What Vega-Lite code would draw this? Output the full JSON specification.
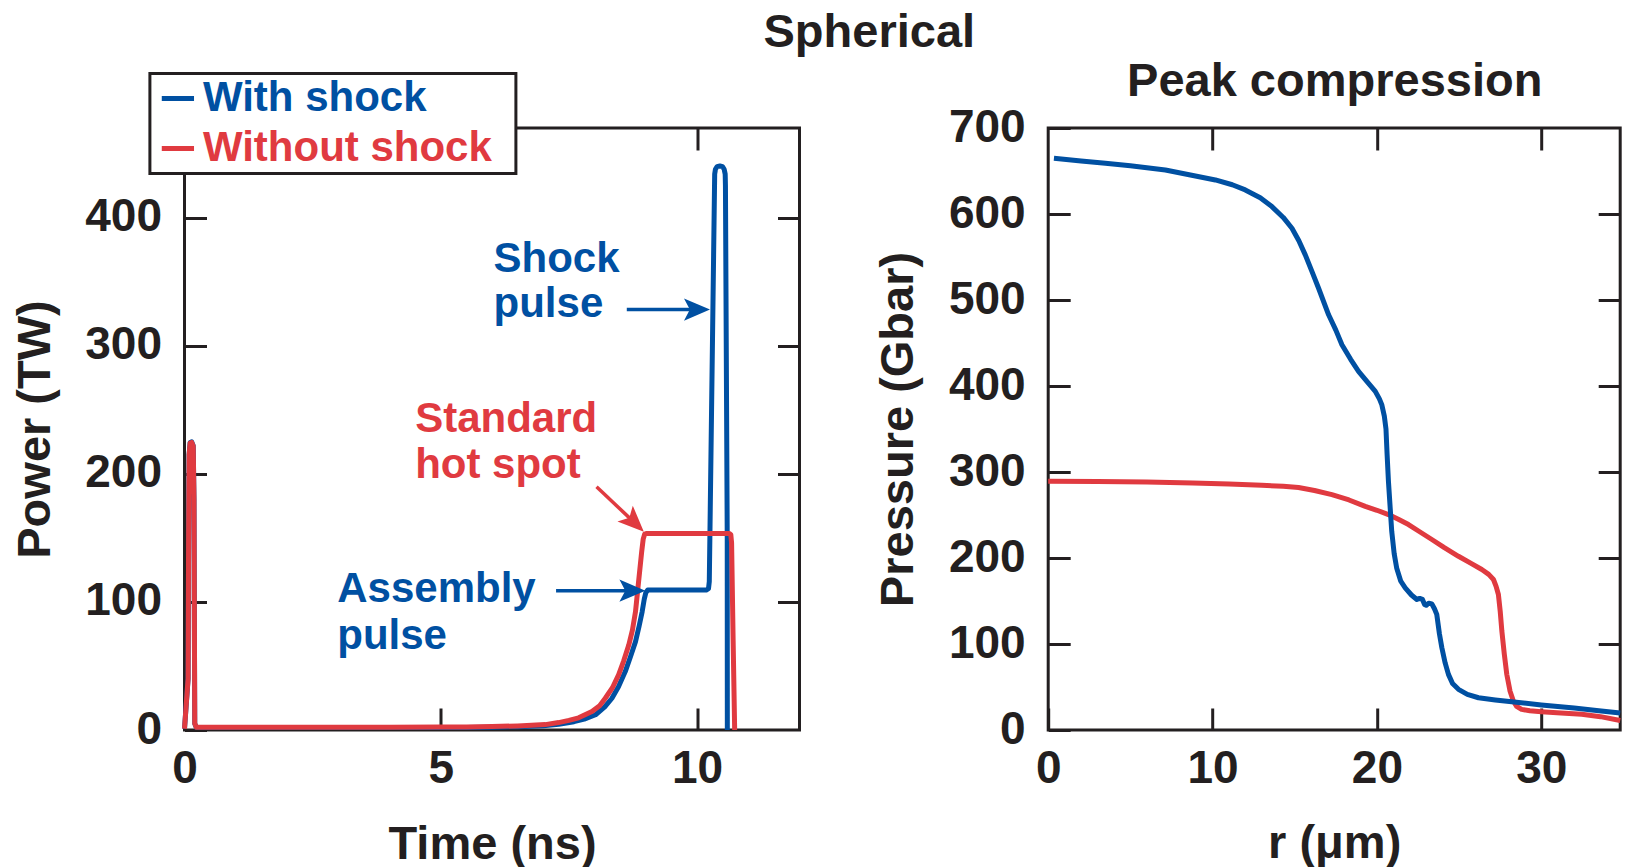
{
  "$schema": "https://vega.github.io/schema/vega-lite/v6.json",
  "background": "white",
  "padding": {"left": 9.5, "top": 7, "right": 10, "bottom": 0},
  "bounds": "flush",
  "spacing": 248.7,
  "resolve": {"scale": {"color": "independent"}, "legend": {"color": "independent"}},
  "config": {
    "view": {"stroke": "#231f20", "strokeWidth": 3},
    "font": "Liberation Sans",
    "axis": {"domain": false, "grid": false, "tickSize": -22, "tickWidth": 3, "tickColor": "#231f20", "labelFont": "Liberation Sans", "labelFontSize": 46, "labelFontWeight": "bold", "labelColor": "#231f20", "labelOverlap": false, "labelFlush": false, "labelBound": false, "titleFont": "Liberation Sans", "titleFontSize": 47, "titleFontWeight": "bold", "titleColor": "#231f20"},
    "axisX": {"labelPadding": 38},
    "axisY": {"labelPadding": 45, "labelOffset": -1}
  },
  "datasets": {
    "power": [
      {"t": 0.0, "P": 1, "series": "With shock"}, {"t": 0.07, "P": 40, "series": "With shock"}, {"t": 0.08, "P": 150, "series": "With shock"}, {"t": 0.09, "P": 215, "series": "With shock"}, {"t": 0.11, "P": 224.5, "series": "With shock"}, {"t": 0.14, "P": 225, "series": "With shock"}, {"t": 0.17, "P": 222, "series": "With shock"}, {"t": 0.185, "P": 180, "series": "With shock"}, {"t": 0.195, "P": 60, "series": "With shock"}, {"t": 0.2, "P": 5, "series": "With shock"}, {"t": 0.23, "P": 2, "series": "With shock"},
      {"t": 1, "P": 2, "series": "With shock"}, {"t": 2, "P": 2, "series": "With shock"}, {"t": 3, "P": 2, "series": "With shock"}, {"t": 4, "P": 2, "series": "With shock"}, {"t": 5, "P": 2, "series": "With shock"}, {"t": 5.5, "P": 2, "series": "With shock"}, {"t": 6, "P": 2.2, "series": "With shock"}, {"t": 6.5, "P": 2.6, "series": "With shock"}, {"t": 7, "P": 3.3, "series": "With shock"}, {"t": 7.3, "P": 4.5, "series": "With shock"}, {"t": 7.6, "P": 6.5, "series": "With shock"}, {"t": 7.8, "P": 8.5, "series": "With shock"}, {"t": 8.02, "P": 11.9, "series": "With shock"}, {"t": 8.2, "P": 18, "series": "With shock"}, {"t": 8.34, "P": 24.8, "series": "With shock"}, {"t": 8.47, "P": 34, "series": "With shock"}, {"t": 8.6, "P": 45.6, "series": "With shock"}, {"t": 8.7, "P": 57, "series": "With shock"}, {"t": 8.8, "P": 69, "series": "With shock"}, {"t": 8.87, "P": 81, "series": "With shock"}, {"t": 8.93, "P": 92.4, "series": "With shock"}, {"t": 8.97, "P": 102, "series": "With shock"}, {"t": 9.0, "P": 107, "series": "With shock"}, {"t": 9.04, "P": 109.4, "series": "With shock"}, {"t": 10.19, "P": 109.4, "series": "With shock"}, {"t": 10.225, "P": 110.5, "series": "With shock"}, {"t": 10.24, "P": 116, "series": "With shock"}, {"t": 10.345, "P": 434, "series": "With shock"}, {"t": 10.36, "P": 437.8, "series": "With shock"}, {"t": 10.39, "P": 439.8, "series": "With shock"}, {"t": 10.447, "P": 440.3, "series": "With shock"}, {"t": 10.5, "P": 439.8, "series": "With shock"}, {"t": 10.53, "P": 437.8, "series": "With shock"}, {"t": 10.55, "P": 434, "series": "With shock"}, {"t": 10.555, "P": 425, "series": "With shock"}, {"t": 10.59, "P": 150, "series": "With shock"}, {"t": 10.592, "P": 0, "series": "With shock"},
      {"t": 0.0, "P": 1, "series": "Without shock"}, {"t": 0.07, "P": 40, "series": "Without shock"}, {"t": 0.08, "P": 150, "series": "Without shock"}, {"t": 0.09, "P": 215, "series": "Without shock"}, {"t": 0.11, "P": 224, "series": "Without shock"}, {"t": 0.14, "P": 224.5, "series": "Without shock"}, {"t": 0.17, "P": 221.5, "series": "Without shock"}, {"t": 0.185, "P": 180, "series": "Without shock"}, {"t": 0.195, "P": 60, "series": "Without shock"}, {"t": 0.2, "P": 5, "series": "Without shock"}, {"t": 0.23, "P": 2.2, "series": "Without shock"},
      {"t": 1, "P": 2.2, "series": "Without shock"}, {"t": 2, "P": 2.2, "series": "Without shock"}, {"t": 3, "P": 2.2, "series": "Without shock"}, {"t": 4, "P": 2.2, "series": "Without shock"}, {"t": 5, "P": 2.3, "series": "Without shock"}, {"t": 5.5, "P": 2.4, "series": "Without shock"}, {"t": 6, "P": 2.7, "series": "Without shock"}, {"t": 6.5, "P": 3.2, "series": "Without shock"}, {"t": 7.04, "P": 4.2, "series": "Without shock"}, {"t": 7.3, "P": 5.8, "series": "Without shock"}, {"t": 7.5, "P": 7.5, "series": "Without shock"}, {"t": 7.69, "P": 9.5, "series": "Without shock"}, {"t": 7.95, "P": 14.4, "series": "Without shock"}, {"t": 8.1, "P": 19, "series": "Without shock"}, {"t": 8.21, "P": 24.8, "series": "Without shock"}, {"t": 8.35, "P": 33, "series": "Without shock"}, {"t": 8.47, "P": 43, "series": "Without shock"}, {"t": 8.57, "P": 54, "series": "Without shock"}, {"t": 8.67, "P": 66.5, "series": "Without shock"}, {"t": 8.74, "P": 78, "series": "Without shock"}, {"t": 8.8, "P": 92.4, "series": "Without shock"}, {"t": 8.86, "P": 115.8, "series": "Without shock"}, {"t": 8.92, "P": 139, "series": "Without shock"}, {"t": 8.95, "P": 149, "series": "Without shock"}, {"t": 8.98, "P": 153, "series": "Without shock"}, {"t": 9.02, "P": 153.5, "series": "Without shock"}, {"t": 10.63, "P": 153.5, "series": "Without shock"}, {"t": 10.66, "P": 152.5, "series": "Without shock"}, {"t": 10.675, "P": 146, "series": "Without shock"}, {"t": 10.705, "P": 70, "series": "Without shock"}, {"t": 10.735, "P": 0, "series": "Without shock"}
    ],
    "pressure": [
      {"r": 0.35, "P": 664.7, "series": "With shock"}, {"r": 2, "P": 661.5, "series": "With shock"}, {"r": 3.48, "P": 659, "series": "With shock"}, {"r": 5, "P": 656, "series": "With shock"}, {"r": 7.13, "P": 651.2, "series": "With shock"}, {"r": 8.5, "P": 646, "series": "With shock"}, {"r": 10.17, "P": 639.6, "series": "With shock"}, {"r": 11.2, "P": 634, "series": "With shock"}, {"r": 11.99, "P": 628, "series": "With shock"}, {"r": 12.9, "P": 619, "series": "With shock"}, {"r": 13.61, "P": 608.6, "series": "With shock"}, {"r": 14.3, "P": 596, "series": "With shock"}, {"r": 14.83, "P": 583.4, "series": "With shock"}, {"r": 15.25, "P": 569, "series": "With shock"}, {"r": 15.64, "P": 552.5, "series": "With shock"}, {"r": 16.05, "P": 533, "series": "With shock"}, {"r": 16.45, "P": 513.7, "series": "With shock"}, {"r": 17.06, "P": 482.8, "series": "With shock"}, {"r": 17.5, "P": 465, "series": "With shock"}, {"r": 17.87, "P": 448, "series": "With shock"}, {"r": 18.4, "P": 431, "series": "With shock"}, {"r": 18.88, "P": 417, "series": "With shock"}, {"r": 19.4, "P": 405, "series": "With shock"}, {"r": 19.9, "P": 393.7, "series": "With shock"}, {"r": 20.15, "P": 385, "series": "With shock"}, {"r": 20.3, "P": 378, "series": "With shock"}, {"r": 20.45, "P": 365, "series": "With shock"}, {"r": 20.55, "P": 350, "series": "With shock"}, {"r": 20.62, "P": 320, "series": "With shock"}, {"r": 20.7, "P": 289, "series": "With shock"}, {"r": 20.8, "P": 260, "series": "With shock"}, {"r": 20.9, "P": 231, "series": "With shock"}, {"r": 21.05, "P": 205, "series": "With shock"}, {"r": 21.2, "P": 188.5, "series": "With shock"}, {"r": 21.45, "P": 173, "series": "With shock"}, {"r": 21.72, "P": 165.3, "series": "With shock"}, {"r": 22.1, "P": 157, "series": "With shock"}, {"r": 22.43, "P": 151.8, "series": "With shock"}, {"r": 22.6, "P": 153, "series": "With shock"}, {"r": 22.77, "P": 151.8, "series": "With shock"}, {"r": 22.9, "P": 146, "series": "With shock"}, {"r": 23.0, "P": 145, "series": "With shock"}, {"r": 23.15, "P": 147.5, "series": "With shock"}, {"r": 23.34, "P": 146.7, "series": "With shock"}, {"r": 23.5, "P": 141, "series": "With shock"}, {"r": 23.64, "P": 134.4, "series": "With shock"}, {"r": 23.8, "P": 112, "series": "With shock"}, {"r": 23.95, "P": 95.6, "series": "With shock"}, {"r": 24.15, "P": 78, "series": "With shock"}, {"r": 24.35, "P": 64.7, "series": "With shock"}, {"r": 24.6, "P": 54, "series": "With shock"}, {"r": 24.96, "P": 47.3, "series": "With shock"}, {"r": 25.5, "P": 41.5, "series": "With shock"}, {"r": 26.18, "P": 37.5, "series": "With shock"}, {"r": 27.2, "P": 35, "series": "With shock"}, {"r": 28.2, "P": 32.9, "series": "With shock"}, {"r": 30.0, "P": 29, "series": "With shock"}, {"r": 32.0, "P": 25.5, "series": "With shock"}, {"r": 33.5, "P": 22.5, "series": "With shock"}, {"r": 34.8, "P": 19.8, "series": "With shock"},
      {"r": 0, "P": 289.2, "series": "Without shock"}, {"r": 3, "P": 289, "series": "Without shock"}, {"r": 6, "P": 288.5, "series": "Without shock"}, {"r": 8.8, "P": 287.2, "series": "Without shock"}, {"r": 11, "P": 286, "series": "Without shock"}, {"r": 13, "P": 284.5, "series": "Without shock"}, {"r": 14.3, "P": 283.4, "series": "Without shock"}, {"r": 15.23, "P": 282, "series": "Without shock"}, {"r": 16.2, "P": 278.5, "series": "Without shock"}, {"r": 17.26, "P": 273.7, "series": "Without shock"}, {"r": 18.3, "P": 267.5, "series": "Without shock"}, {"r": 19.29, "P": 260, "series": "Without shock"}, {"r": 20.0, "P": 255.5, "series": "Without shock"}, {"r": 20.7, "P": 250.5, "series": "Without shock"}, {"r": 21.3, "P": 245, "series": "Without shock"}, {"r": 21.92, "P": 238.9, "series": "Without shock"}, {"r": 22.6, "P": 230.5, "series": "Without shock"}, {"r": 23.34, "P": 221.5, "series": "Without shock"}, {"r": 24.1, "P": 212, "series": "Without shock"}, {"r": 24.96, "P": 202, "series": "Without shock"}, {"r": 25.7, "P": 194, "series": "Without shock"}, {"r": 26.38, "P": 186.6, "series": "Without shock"}, {"r": 26.8, "P": 181, "series": "Without shock"}, {"r": 27.09, "P": 175, "series": "Without shock"}, {"r": 27.25, "P": 167, "series": "Without shock"}, {"r": 27.39, "P": 157.6, "series": "Without shock"}, {"r": 27.5, "P": 138, "series": "Without shock"}, {"r": 27.6, "P": 115, "series": "Without shock"}, {"r": 27.75, "P": 88, "series": "Without shock"}, {"r": 27.9, "P": 64.7, "series": "Without shock"}, {"r": 28.1, "P": 45, "series": "Without shock"}, {"r": 28.3, "P": 33.7, "series": "Without shock"}, {"r": 28.5, "P": 27.5, "series": "Without shock"}, {"r": 28.8, "P": 24, "series": "Without shock"}, {"r": 29.3, "P": 22.3, "series": "Without shock"}, {"r": 30.0, "P": 21.3, "series": "Without shock"}, {"r": 31.2, "P": 19.8, "series": "Without shock"}, {"r": 32.46, "P": 18.2, "series": "Without shock"}, {"r": 33.6, "P": 15.5, "series": "Without shock"}, {"r": 34.8, "P": 11, "series": "Without shock"}
    ],
    "notes": [
      {"t": 6.03, "P": 357.6, "label": "Shock", "series": "With shock"},
      {"t": 6.03, "P": 322.5, "label": "pulse", "series": "With shock"},
      {"t": 2.98, "P": 100.2, "label": "Assembly", "series": "With shock"},
      {"t": 2.98, "P": 63.2, "label": "pulse", "series": "With shock"},
      {"t": 4.5, "P": 232.8, "label": "Standard", "series": "Without shock"},
      {"t": 4.5, "P": 196.4, "label": "hot spot", "series": "Without shock"}
    ],
    "arrows": [
      {"t": 8.63, "P": 328.2, "t2": 10.0, "P2": 328.2, "series": "With shock"},
      {"t": 7.25, "P": 108.8, "t2": 8.74, "P2": 108.8, "series": "With shock"},
      {"t": 8.04, "P": 189.9, "t2": 8.78, "P2": 161.9, "series": "Without shock"}
    ]
  },
  "hconcat": [
    {
      "width": 615,
      "height": 602,
      "data": {"name": "power"},
      "resolve": {"axis": {"x": "independent", "y": "independent"}},
      "layer": [
        {
          "transform": [{"filter": "datum.series === 'With shock'"}],
          "mark": {"type": "line", "strokeWidth": 5, "strokeJoin": "round"},
          "encoding": {
            "x": {"field": "t", "type": "quantitative", "scale": {"domain": [0, 12], "nice": false, "zero": false},
                  "axis": {"orient": "bottom", "values": [0, 5, 10], "title": "Time (ns)", "titleX": 307.5, "titleY": 128, "titleBaseline": "alphabetic", "titleAlign": "center", "titleAngle": 0}},
            "y": {"field": "P", "type": "quantitative", "scale": {"domain": [0, 470], "nice": false, "zero": false},
                  "axis": {"orient": "left", "values": [0, 100, 200, 300, 400], "title": "Power (TW)", "titleX": -125, "titleY": 301, "titleBaseline": "bottom", "titleAlign": "center", "titleAngle": -90}},
            "color": {"field": "series", "type": "nominal",
                      "scale": {"domain": ["With shock", "Without shock"], "range": ["#0050a2", "#e03a40"]},
                      "legend": {"orient": "none", "legendX": -34.6, "legendY": -54.6, "title": "\u2800", "titleOrient": "right", "titleFontSize": 24, "titlePadding": 2, "titleColor": "#ffffff", "symbolType": "stroke", "symbolSize": 1040, "symbolStrokeWidth": 5, "labelFont": "Liberation Sans", "labelFontSize": 42, "labelFontWeight": "bold", "labelLimit": 600, "padding": 4, "symbolOffset": 3, "labelOffset": 4, "rowPadding": 8, "fillColor": "#ffffff", "strokeColor": "#231f20",
                                 "encode": {"legend": {"update": {"strokeWidth": {"value": 3}}}, "labels": {"update": {"fill": {"signal": "datum.value === 'With shock' ? '#0050a2' : '#e03a40'"}}}}}}
          }
        },
        {
          "transform": [{"filter": "datum.series === 'Without shock'"}],
          "mark": {"type": "line", "strokeWidth": 5, "strokeJoin": "round"},
          "encoding": {
            "x": {"field": "t", "type": "quantitative", "axis": {"orient": "top", "values": [0, 5, 10], "labels": false, "title": "Spherical", "titleX": 684.3, "titleY": -81.5, "titleBaseline": "alphabetic", "titleAlign": "center", "titleAngle": 0}},
            "y": {"field": "P", "type": "quantitative", "axis": {"orient": "right", "values": [100, 200, 300, 400], "labels": false, "title": null}},
            "color": {"field": "series", "type": "nominal"}
          }
        },
        {
          "data": {"name": "notes"},
          "transform": [{"filter": "datum.series === 'With shock'"}],
          "mark": {"type": "text", "align": "left", "baseline": "alphabetic", "font": "Liberation Sans", "fontWeight": "bold", "fontSize": 42, "color": "#0050a2"},
          "encoding": {
            "x": {"field": "t", "type": "quantitative", "axis": null},
            "y": {"field": "P", "type": "quantitative", "axis": null},
            "text": {"field": "label"}
          }
        },
        {
          "data": {"name": "notes"},
          "transform": [{"filter": "datum.series === 'Without shock'"}],
          "mark": {"type": "text", "align": "left", "baseline": "alphabetic", "font": "Liberation Sans", "fontWeight": "bold", "fontSize": 42, "color": "#e03a40"},
          "encoding": {
            "x": {"field": "t", "type": "quantitative", "axis": null},
            "y": {"field": "P", "type": "quantitative", "axis": null},
            "text": {"field": "label"}
          }
        },
        {
          "data": {"name": "arrows"},
          "transform": [{"filter": "datum.series === 'With shock'"}],
          "mark": {"type": "rule", "strokeWidth": 3.5, "color": "#0050a2"},
          "encoding": {
            "x": {"field": "t", "type": "quantitative", "axis": null},
            "x2": {"field": "t2"},
            "y": {"field": "P", "type": "quantitative", "axis": null},
            "y2": {"field": "P2"}
          }
        },
        {
          "data": {"name": "arrows"},
          "transform": [{"filter": "datum.series === 'Without shock'"}],
          "mark": {"type": "rule", "strokeWidth": 3.5, "color": "#e03a40"},
          "encoding": {
            "x": {"field": "t", "type": "quantitative", "axis": null},
            "x2": {"field": "t2"},
            "y": {"field": "P", "type": "quantitative", "axis": null},
            "y2": {"field": "P2"}
          }
        },
        {
          "data": {"name": "arrows"},
          "transform": [{"filter": "datum.series === 'With shock'"}],
          "mark": {"type": "point", "filled": true, "shape": "M1,0L-1,-0.85L-0.55,0L-1,0.85Z", "size": 676, "color": "#0050a2", "opacity": 1, "strokeWidth": 0},
          "encoding": {
            "x": {"field": "t2", "type": "quantitative", "axis": null},
            "y": {"field": "P2", "type": "quantitative", "axis": null}
          }
        },
        {
          "data": {"name": "arrows"},
          "transform": [{"filter": "datum.series === 'Without shock'"}],
          "mark": {"type": "point", "filled": true, "shape": "M1,0L-1,-0.85L-0.55,0L-1,0.85Z", "size": 676, "color": "#e03a40", "opacity": 1, "strokeWidth": 0, "angle": 44},
          "encoding": {
            "x": {"field": "t2", "type": "quantitative", "axis": null},
            "y": {"field": "P2", "type": "quantitative", "axis": null}
          }
        }
      ]
    },
    {
      "width": 572,
      "height": 602,
      "data": {"name": "pressure"},
      "resolve": {"axis": {"x": "independent", "y": "independent"}},
      "layer": [
        {
          "transform": [{"filter": "datum.series === 'Without shock'"}],
          "mark": {"type": "line", "strokeWidth": 5, "strokeJoin": "round", "color": "#e03a40"},
          "encoding": {
            "x": {"field": "r", "type": "quantitative", "scale": {"domain": [0, 34.8], "nice": false, "zero": false},
                  "axis": {"orient": "bottom", "values": [0, 10, 20, 30], "title": "r (μm)", "titleX": 286, "titleY": 127, "titleBaseline": "alphabetic", "titleAlign": "center", "titleAngle": 0}},
            "y": {"field": "P", "type": "quantitative", "scale": {"domain": [0, 700], "nice": false, "zero": false},
                  "axis": {"orient": "left", "values": [0, 100, 200, 300, 400, 500, 600, 700], "title": "Pressure (Gbar)", "titleX": -126, "titleY": 301, "titleBaseline": "bottom", "titleAlign": "center", "titleAngle": -90}}
          }
        },
        {
          "transform": [{"filter": "datum.series === 'With shock'"}],
          "mark": {"type": "line", "strokeWidth": 5, "strokeJoin": "round", "color": "#0050a2"},
          "encoding": {
            "x": {"field": "r", "type": "quantitative", "axis": {"orient": "top", "values": [10, 20, 30], "labels": false, "title": "Peak compression", "titleX": 286, "titleY": -32.5, "titleBaseline": "alphabetic", "titleAlign": "center", "titleAngle": 0}},
            "y": {"field": "P", "type": "quantitative", "axis": {"orient": "right", "values": [100, 200, 300, 400, 500, 600], "labels": false, "title": null}}
          }
        }
      ]
    }
  ]
}
